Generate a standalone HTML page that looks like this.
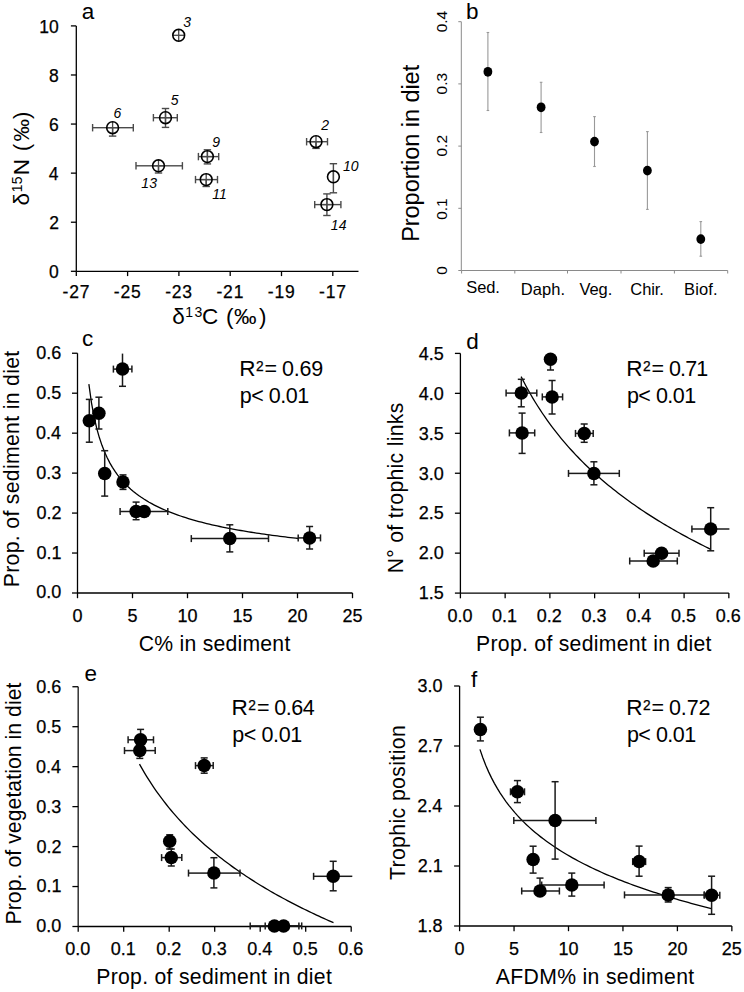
<!DOCTYPE html>
<html><head><meta charset="utf-8"><style>
html,body{margin:0;padding:0;background:#fff;}
svg{display:block;}
text{font-family:"Liberation Sans", sans-serif;fill:#000;}
.tk{stroke:#000;stroke-width:0.25px;}
</style></head><body>
<svg width="744" height="992" viewBox="0 0 744 992">
<rect width="744" height="992" fill="#fff"/>
<line x1="76.30" y1="25.90" x2="76.30" y2="271.30" stroke="#000" stroke-width="1.3"/>
<line x1="76.30" y1="271.30" x2="358.50" y2="271.30" stroke="#000" stroke-width="1.3"/>
<line x1="70.90" y1="271.30" x2="76.30" y2="271.30" stroke="#000" stroke-width="1.3"/>
<text class="tk" x="48.94" y="278.16" font-size="17.5">0</text>
<line x1="70.90" y1="222.22" x2="76.30" y2="222.22" stroke="#000" stroke-width="1.3"/>
<text class="tk" x="49.16" y="229.08" font-size="17.5">2</text>
<line x1="70.90" y1="173.14" x2="76.30" y2="173.14" stroke="#000" stroke-width="1.3"/>
<text class="tk" x="48.77" y="180.00" font-size="17.5">4</text>
<line x1="70.90" y1="124.06" x2="76.30" y2="124.06" stroke="#000" stroke-width="1.3"/>
<text class="tk" x="49.03" y="130.92" font-size="17.5">6</text>
<line x1="70.90" y1="74.98" x2="76.30" y2="74.98" stroke="#000" stroke-width="1.3"/>
<text class="tk" x="49.03" y="81.84" font-size="17.5">8</text>
<line x1="70.90" y1="25.90" x2="76.30" y2="25.90" stroke="#000" stroke-width="1.3"/>
<text class="tk" x="39.23" y="32.76" font-size="17.5">10</text>
<line x1="76.30" y1="271.30" x2="76.30" y2="276.10" stroke="#000" stroke-width="1.3"/>
<text class="tk" x="62.60" y="297.80" font-size="17.5" letter-spacing="0.8">-27</text>
<line x1="127.60" y1="271.30" x2="127.60" y2="276.10" stroke="#000" stroke-width="1.3"/>
<text class="tk" x="113.81" y="297.80" font-size="17.5" letter-spacing="0.8">-25</text>
<line x1="178.90" y1="271.30" x2="178.90" y2="276.10" stroke="#000" stroke-width="1.3"/>
<text class="tk" x="165.13" y="297.80" font-size="17.5" letter-spacing="0.8">-23</text>
<line x1="230.20" y1="271.30" x2="230.20" y2="276.10" stroke="#000" stroke-width="1.3"/>
<text class="tk" x="216.48" y="297.80" font-size="17.5" letter-spacing="0.8">-21</text>
<line x1="281.50" y1="271.30" x2="281.50" y2="276.10" stroke="#000" stroke-width="1.3"/>
<text class="tk" x="267.76" y="297.80" font-size="17.5" letter-spacing="0.8">-19</text>
<line x1="332.80" y1="271.30" x2="332.80" y2="276.10" stroke="#000" stroke-width="1.3"/>
<text class="tk" x="319.10" y="297.80" font-size="17.5" letter-spacing="0.8">-17</text>
<text x="81.74" y="19.00" font-size="22.5">a</text>
<text x="172.24" y="323.70" font-size="22.5">δ</text>
<text x="185.25" y="316.50" font-size="14.0" letter-spacing="1.405">13</text>
<text x="202.08" y="323.70" font-size="22.5">C</text>
<text x="226.09" y="323.70" font-size="22.5">(</text>
<text x="233.98" y="323.70" font-size="22.5">‰</text>
<text x="259.03" y="323.70" font-size="22.5">)</text>
<text transform="translate(29.30,205.56) rotate(-90)" font-size="22.5">δ</text>
<text transform="translate(22.10,192.35) rotate(-90)" font-size="14.0" letter-spacing="0.370">15</text>
<text transform="translate(29.30,175.36) rotate(-90)" font-size="22.5">N</text>
<text transform="translate(29.30,151.31) rotate(-90)" font-size="22.5">(</text>
<text transform="translate(29.30,141.42) rotate(-90)" font-size="22.5">‰</text>
<text transform="translate(29.30,119.07) rotate(-90)" font-size="22.5">)</text>
<line x1="172.90" y1="35.30" x2="184.50" y2="35.30" stroke="#4a4a4a" stroke-width="1.3"/>
<line x1="178.70" y1="29.50" x2="178.70" y2="41.10" stroke="#4a4a4a" stroke-width="1.3"/>
<circle cx="178.70" cy="35.30" r="5.9" fill="none" stroke="#000" stroke-width="1.6"/>
<text x="183.25" y="27.40" font-size="14.0" font-style="italic">3</text>
<line x1="106.80" y1="127.70" x2="118.40" y2="127.70" stroke="#4a4a4a" stroke-width="1.3"/>
<line x1="112.60" y1="121.90" x2="112.60" y2="133.50" stroke="#4a4a4a" stroke-width="1.3"/>
<line x1="92.60" y1="127.70" x2="112.60" y2="127.70" stroke="#4a4a4a" stroke-width="1.4"/>
<line x1="92.60" y1="124.00" x2="92.60" y2="131.40" stroke="#4a4a4a" stroke-width="1.4"/>
<line x1="112.60" y1="127.70" x2="133.30" y2="127.70" stroke="#4a4a4a" stroke-width="1.4"/>
<line x1="133.30" y1="124.00" x2="133.30" y2="131.40" stroke="#4a4a4a" stroke-width="1.4"/>
<line x1="112.60" y1="127.70" x2="112.60" y2="136.10" stroke="#4a4a4a" stroke-width="1.4"/>
<line x1="108.90" y1="136.10" x2="116.30" y2="136.10" stroke="#4a4a4a" stroke-width="1.4"/>
<circle cx="112.60" cy="127.70" r="5.9" fill="none" stroke="#000" stroke-width="1.6"/>
<text x="113.53" y="118.40" font-size="14.0" font-style="italic">6</text>
<line x1="159.70" y1="117.70" x2="171.30" y2="117.70" stroke="#4a4a4a" stroke-width="1.3"/>
<line x1="165.50" y1="111.90" x2="165.50" y2="123.50" stroke="#4a4a4a" stroke-width="1.3"/>
<line x1="153.40" y1="117.70" x2="165.50" y2="117.70" stroke="#4a4a4a" stroke-width="1.4"/>
<line x1="153.40" y1="114.00" x2="153.40" y2="121.40" stroke="#4a4a4a" stroke-width="1.4"/>
<line x1="165.50" y1="117.70" x2="177.30" y2="117.70" stroke="#4a4a4a" stroke-width="1.4"/>
<line x1="177.30" y1="114.00" x2="177.30" y2="121.40" stroke="#4a4a4a" stroke-width="1.4"/>
<line x1="165.50" y1="108.50" x2="165.50" y2="117.70" stroke="#4a4a4a" stroke-width="1.4"/>
<line x1="161.80" y1="108.50" x2="169.20" y2="108.50" stroke="#4a4a4a" stroke-width="1.4"/>
<line x1="165.50" y1="117.70" x2="165.50" y2="127.40" stroke="#4a4a4a" stroke-width="1.4"/>
<line x1="161.80" y1="127.40" x2="169.20" y2="127.40" stroke="#4a4a4a" stroke-width="1.4"/>
<circle cx="165.50" cy="117.70" r="5.9" fill="none" stroke="#000" stroke-width="1.6"/>
<text x="170.69" y="104.50" font-size="14.0" font-style="italic">5</text>
<line x1="152.70" y1="165.80" x2="164.30" y2="165.80" stroke="#4a4a4a" stroke-width="1.3"/>
<line x1="158.50" y1="160.00" x2="158.50" y2="171.60" stroke="#4a4a4a" stroke-width="1.3"/>
<line x1="136.00" y1="165.80" x2="158.50" y2="165.80" stroke="#4a4a4a" stroke-width="1.4"/>
<line x1="136.00" y1="162.10" x2="136.00" y2="169.50" stroke="#4a4a4a" stroke-width="1.4"/>
<line x1="158.50" y1="165.80" x2="182.40" y2="165.80" stroke="#4a4a4a" stroke-width="1.4"/>
<line x1="182.40" y1="162.10" x2="182.40" y2="169.50" stroke="#4a4a4a" stroke-width="1.4"/>
<line x1="158.50" y1="165.80" x2="158.50" y2="173.00" stroke="#4a4a4a" stroke-width="1.4"/>
<line x1="154.80" y1="173.00" x2="162.20" y2="173.00" stroke="#4a4a4a" stroke-width="1.4"/>
<circle cx="158.50" cy="165.80" r="5.9" fill="none" stroke="#000" stroke-width="1.6"/>
<text x="141.35" y="188.10" font-size="14.0" font-style="italic">13</text>
<line x1="201.60" y1="156.60" x2="213.20" y2="156.60" stroke="#4a4a4a" stroke-width="1.3"/>
<line x1="207.40" y1="150.80" x2="207.40" y2="162.40" stroke="#4a4a4a" stroke-width="1.3"/>
<line x1="198.40" y1="156.60" x2="207.40" y2="156.60" stroke="#4a4a4a" stroke-width="1.4"/>
<line x1="198.40" y1="152.90" x2="198.40" y2="160.30" stroke="#4a4a4a" stroke-width="1.4"/>
<line x1="207.40" y1="156.60" x2="218.70" y2="156.60" stroke="#4a4a4a" stroke-width="1.4"/>
<line x1="218.70" y1="152.90" x2="218.70" y2="160.30" stroke="#4a4a4a" stroke-width="1.4"/>
<line x1="207.40" y1="149.80" x2="207.40" y2="156.60" stroke="#4a4a4a" stroke-width="1.4"/>
<line x1="203.70" y1="149.80" x2="211.10" y2="149.80" stroke="#4a4a4a" stroke-width="1.4"/>
<line x1="207.40" y1="156.60" x2="207.40" y2="163.90" stroke="#4a4a4a" stroke-width="1.4"/>
<line x1="203.70" y1="163.90" x2="211.10" y2="163.90" stroke="#4a4a4a" stroke-width="1.4"/>
<circle cx="207.40" cy="156.60" r="5.9" fill="none" stroke="#000" stroke-width="1.6"/>
<text x="212.21" y="146.60" font-size="14.0" font-style="italic">9</text>
<line x1="200.40" y1="179.60" x2="212.00" y2="179.60" stroke="#4a4a4a" stroke-width="1.3"/>
<line x1="206.20" y1="173.80" x2="206.20" y2="185.40" stroke="#4a4a4a" stroke-width="1.3"/>
<line x1="195.50" y1="179.60" x2="206.20" y2="179.60" stroke="#4a4a4a" stroke-width="1.4"/>
<line x1="195.50" y1="175.90" x2="195.50" y2="183.30" stroke="#4a4a4a" stroke-width="1.4"/>
<line x1="206.20" y1="179.60" x2="217.50" y2="179.60" stroke="#4a4a4a" stroke-width="1.4"/>
<line x1="217.50" y1="175.90" x2="217.50" y2="183.30" stroke="#4a4a4a" stroke-width="1.4"/>
<line x1="206.20" y1="179.60" x2="206.20" y2="186.50" stroke="#4a4a4a" stroke-width="1.4"/>
<line x1="202.50" y1="186.50" x2="209.90" y2="186.50" stroke="#4a4a4a" stroke-width="1.4"/>
<circle cx="206.20" cy="179.60" r="5.9" fill="none" stroke="#000" stroke-width="1.6"/>
<text x="212.35" y="199.10" font-size="14.0" font-style="italic">11</text>
<line x1="310.20" y1="141.70" x2="321.80" y2="141.70" stroke="#4a4a4a" stroke-width="1.3"/>
<line x1="316.00" y1="135.90" x2="316.00" y2="147.50" stroke="#4a4a4a" stroke-width="1.3"/>
<line x1="306.60" y1="141.70" x2="316.00" y2="141.70" stroke="#4a4a4a" stroke-width="1.4"/>
<line x1="306.60" y1="138.00" x2="306.60" y2="145.40" stroke="#4a4a4a" stroke-width="1.4"/>
<line x1="316.00" y1="141.70" x2="327.50" y2="141.70" stroke="#4a4a4a" stroke-width="1.4"/>
<line x1="327.50" y1="138.00" x2="327.50" y2="145.40" stroke="#4a4a4a" stroke-width="1.4"/>
<line x1="316.00" y1="141.70" x2="316.00" y2="148.40" stroke="#4a4a4a" stroke-width="1.4"/>
<line x1="312.30" y1="148.40" x2="319.70" y2="148.40" stroke="#4a4a4a" stroke-width="1.4"/>
<circle cx="316.00" cy="141.70" r="5.9" fill="none" stroke="#000" stroke-width="1.6"/>
<text x="321.17" y="130.00" font-size="14.0" font-style="italic">2</text>
<line x1="333.40" y1="171.00" x2="333.40" y2="182.60" stroke="#4a4a4a" stroke-width="1.3"/>
<line x1="333.40" y1="163.70" x2="333.40" y2="176.80" stroke="#4a4a4a" stroke-width="1.4"/>
<line x1="329.70" y1="163.70" x2="337.10" y2="163.70" stroke="#4a4a4a" stroke-width="1.4"/>
<line x1="333.40" y1="176.80" x2="333.40" y2="192.80" stroke="#4a4a4a" stroke-width="1.4"/>
<line x1="329.70" y1="192.80" x2="337.10" y2="192.80" stroke="#4a4a4a" stroke-width="1.4"/>
<circle cx="333.40" cy="176.80" r="5.9" fill="none" stroke="#000" stroke-width="1.6"/>
<text x="343.05" y="171.30" font-size="14.0" font-style="italic">10</text>
<line x1="321.10" y1="204.60" x2="332.70" y2="204.60" stroke="#4a4a4a" stroke-width="1.3"/>
<line x1="326.90" y1="198.80" x2="326.90" y2="210.40" stroke="#4a4a4a" stroke-width="1.3"/>
<line x1="314.70" y1="204.60" x2="326.90" y2="204.60" stroke="#4a4a4a" stroke-width="1.4"/>
<line x1="314.70" y1="200.90" x2="314.70" y2="208.30" stroke="#4a4a4a" stroke-width="1.4"/>
<line x1="326.90" y1="204.60" x2="340.90" y2="204.60" stroke="#4a4a4a" stroke-width="1.4"/>
<line x1="340.90" y1="200.90" x2="340.90" y2="208.30" stroke="#4a4a4a" stroke-width="1.4"/>
<line x1="326.90" y1="193.90" x2="326.90" y2="204.60" stroke="#4a4a4a" stroke-width="1.4"/>
<line x1="323.20" y1="193.90" x2="330.60" y2="193.90" stroke="#4a4a4a" stroke-width="1.4"/>
<line x1="326.90" y1="204.60" x2="326.90" y2="215.50" stroke="#4a4a4a" stroke-width="1.4"/>
<line x1="323.20" y1="215.50" x2="330.60" y2="215.50" stroke="#4a4a4a" stroke-width="1.4"/>
<circle cx="326.90" cy="204.60" r="5.9" fill="none" stroke="#000" stroke-width="1.6"/>
<text x="330.85" y="229.60" font-size="14.0" font-style="italic">14</text>
<line x1="461.30" y1="21.70" x2="461.30" y2="270.50" stroke="#8a8a8a" stroke-width="1.0"/>
<line x1="461.30" y1="270.50" x2="727.70" y2="270.50" stroke="#8a8a8a" stroke-width="1.0"/>
<line x1="458.30" y1="270.50" x2="461.30" y2="270.50" stroke="#8a8a8a" stroke-width="1.0"/>
<text transform="translate(447.40,274.82) rotate(-90)" font-size="15.5" fill="#111">0</text>
<line x1="458.30" y1="208.30" x2="461.30" y2="208.30" stroke="#8a8a8a" stroke-width="1.0"/>
<text transform="translate(447.40,219.81) rotate(-90)" font-size="15.5" fill="#111">0.1</text>
<line x1="458.30" y1="146.10" x2="461.30" y2="146.10" stroke="#8a8a8a" stroke-width="1.0"/>
<text transform="translate(447.40,156.54) rotate(-90)" font-size="15.5" fill="#111">0.2</text>
<line x1="458.30" y1="83.90" x2="461.30" y2="83.90" stroke="#8a8a8a" stroke-width="1.0"/>
<text transform="translate(447.40,94.40) rotate(-90)" font-size="15.5" fill="#111">0.3</text>
<line x1="458.30" y1="21.70" x2="461.30" y2="21.70" stroke="#8a8a8a" stroke-width="1.0"/>
<text transform="translate(447.40,32.32) rotate(-90)" font-size="15.5" fill="#111">0.4</text>
<line x1="461.60" y1="270.50" x2="461.60" y2="273.50" stroke="#8a8a8a" stroke-width="1.0"/>
<line x1="514.80" y1="270.50" x2="514.80" y2="273.50" stroke="#8a8a8a" stroke-width="1.0"/>
<line x1="567.50" y1="270.50" x2="567.50" y2="273.50" stroke="#8a8a8a" stroke-width="1.0"/>
<line x1="621.00" y1="270.50" x2="621.00" y2="273.50" stroke="#8a8a8a" stroke-width="1.0"/>
<line x1="674.40" y1="270.50" x2="674.40" y2="273.50" stroke="#8a8a8a" stroke-width="1.0"/>
<line x1="727.70" y1="270.50" x2="727.70" y2="273.50" stroke="#8a8a8a" stroke-width="1.0"/>
<text transform="translate(418.80,241.84) rotate(-90)" font-size="23.5" letter-spacing="-0.038">Proportion in diet</text>
<text x="466.04" y="18.70" font-size="22.5">b</text>
<line x1="487.90" y1="32.50" x2="487.90" y2="110.50" stroke="#999" stroke-width="1.1"/>
<line x1="486.60" y1="32.50" x2="489.20" y2="32.50" stroke="#999" stroke-width="1.1"/>
<line x1="486.60" y1="110.50" x2="489.20" y2="110.50" stroke="#999" stroke-width="1.1"/>
<ellipse cx="487.9" cy="71.8" rx="4.4" ry="4.9" fill="#000"/>
<line x1="541.10" y1="82.30" x2="541.10" y2="132.50" stroke="#999" stroke-width="1.1"/>
<line x1="539.80" y1="82.30" x2="542.40" y2="82.30" stroke="#999" stroke-width="1.1"/>
<line x1="539.80" y1="132.50" x2="542.40" y2="132.50" stroke="#999" stroke-width="1.1"/>
<ellipse cx="541.1" cy="107.3" rx="4.4" ry="4.9" fill="#000"/>
<line x1="594.50" y1="116.60" x2="594.50" y2="166.50" stroke="#999" stroke-width="1.1"/>
<line x1="593.20" y1="116.60" x2="595.80" y2="116.60" stroke="#999" stroke-width="1.1"/>
<line x1="593.20" y1="166.50" x2="595.80" y2="166.50" stroke="#999" stroke-width="1.1"/>
<ellipse cx="594.5" cy="141.6" rx="4.4" ry="4.9" fill="#000"/>
<line x1="647.40" y1="131.60" x2="647.40" y2="209.40" stroke="#999" stroke-width="1.1"/>
<line x1="646.10" y1="131.60" x2="648.70" y2="131.60" stroke="#999" stroke-width="1.1"/>
<line x1="646.10" y1="209.40" x2="648.70" y2="209.40" stroke="#999" stroke-width="1.1"/>
<ellipse cx="647.4" cy="170.6" rx="4.4" ry="4.9" fill="#000"/>
<line x1="700.80" y1="221.60" x2="700.80" y2="256.20" stroke="#999" stroke-width="1.1"/>
<line x1="699.50" y1="221.60" x2="702.10" y2="221.60" stroke="#999" stroke-width="1.1"/>
<line x1="699.50" y1="256.20" x2="702.10" y2="256.20" stroke="#999" stroke-width="1.1"/>
<ellipse cx="700.8" cy="239.1" rx="4.4" ry="4.9" fill="#000"/>
<text x="466.36" y="293.00" font-size="16.5" letter-spacing="-0.174">Sed.</text>
<text x="520.84" y="294.90" font-size="16.5" letter-spacing="0.083">Daph.</text>
<text x="579.52" y="294.90" font-size="16.5" letter-spacing="-0.091">Veg.</text>
<text x="630.37" y="294.90" font-size="16.5" letter-spacing="-0.124">Chir.</text>
<text x="684.04" y="294.90" font-size="16.5" letter-spacing="0.112">Biof.</text>
<line x1="77.50" y1="353.24" x2="77.50" y2="593.00" stroke="#000" stroke-width="1.3"/>
<line x1="77.50" y1="593.00" x2="352.50" y2="593.00" stroke="#000" stroke-width="1.3"/>
<line x1="72.00" y1="593.00" x2="77.50" y2="593.00" stroke="#000" stroke-width="1.3"/>
<text class="tk" x="36.26" y="598.49" font-size="18.0">0.0</text>
<line x1="72.00" y1="553.04" x2="77.50" y2="553.04" stroke="#000" stroke-width="1.3"/>
<text class="tk" x="36.44" y="558.53" font-size="18.0">0.1</text>
<line x1="72.00" y1="513.08" x2="77.50" y2="513.08" stroke="#000" stroke-width="1.3"/>
<text class="tk" x="36.48" y="518.57" font-size="18.0">0.2</text>
<line x1="72.00" y1="473.12" x2="77.50" y2="473.12" stroke="#000" stroke-width="1.3"/>
<text class="tk" x="36.34" y="478.61" font-size="18.0">0.3</text>
<line x1="72.00" y1="433.16" x2="77.50" y2="433.16" stroke="#000" stroke-width="1.3"/>
<text class="tk" x="36.08" y="438.65" font-size="18.0">0.4</text>
<line x1="72.00" y1="393.20" x2="77.50" y2="393.20" stroke="#000" stroke-width="1.3"/>
<text class="tk" x="36.30" y="398.69" font-size="18.0">0.5</text>
<line x1="72.00" y1="353.24" x2="77.50" y2="353.24" stroke="#000" stroke-width="1.3"/>
<text class="tk" x="36.34" y="358.73" font-size="18.0">0.6</text>
<line x1="77.50" y1="593.00" x2="77.50" y2="598.20" stroke="#000" stroke-width="1.3"/>
<text x="77.50" y="621.6" font-size="18.0" text-anchor="middle" class="tk">0</text>
<line x1="132.50" y1="593.00" x2="132.50" y2="598.20" stroke="#000" stroke-width="1.3"/>
<text x="132.50" y="621.6" font-size="18.0" text-anchor="middle" class="tk">5</text>
<line x1="187.50" y1="593.00" x2="187.50" y2="598.20" stroke="#000" stroke-width="1.3"/>
<text x="187.50" y="621.6" font-size="18.0" text-anchor="middle" class="tk">10</text>
<line x1="242.50" y1="593.00" x2="242.50" y2="598.20" stroke="#000" stroke-width="1.3"/>
<text x="242.50" y="621.6" font-size="18.0" text-anchor="middle" class="tk">15</text>
<line x1="297.50" y1="593.00" x2="297.50" y2="598.20" stroke="#000" stroke-width="1.3"/>
<text x="297.50" y="621.6" font-size="18.0" text-anchor="middle" class="tk">20</text>
<line x1="352.50" y1="593.00" x2="352.50" y2="598.20" stroke="#000" stroke-width="1.3"/>
<text x="352.50" y="621.6" font-size="18.0" text-anchor="middle" class="tk">25</text>
<text x="82.10" y="345.80" font-size="22.5">c</text>
<text transform="translate(19.40,587.25) rotate(-90)" font-size="21.2" letter-spacing="0.332">Prop. of sediment in diet</text>
<text x="138.84" y="650.60" font-size="21.2" letter-spacing="0.236">C% in sediment</text>
<polyline points="88.87,384.08 91.49,402.80 94.11,417.02 96.73,428.31 99.35,437.57 101.97,445.34 104.59,451.98 107.21,457.76 109.82,462.84 112.44,467.35 115.06,471.40 117.68,475.05 120.30,478.38 122.92,481.42 125.54,484.22 128.16,486.80 130.78,489.20 133.39,491.43 136.01,493.52 138.63,495.47 141.25,497.31 143.87,499.04 146.49,500.67 149.11,502.22 151.73,503.68 154.34,505.07 156.96,506.40 159.58,507.66 162.20,508.87 164.82,510.02 167.44,511.12 170.06,512.18 172.68,513.19 175.30,514.17 177.91,515.11 180.53,516.01 183.15,516.88 185.77,517.72 188.39,518.53 191.01,519.31 193.63,520.07 196.25,520.81 198.86,521.52 201.48,522.20 204.10,522.87 206.72,523.52 209.34,524.15 211.96,524.76 214.58,525.35 217.20,525.93 219.82,526.49 222.43,527.04 225.05,527.57 227.67,528.09 230.29,528.60 232.91,529.09 235.53,529.57 238.15,530.04 240.77,530.50 243.38,530.95 246.00,531.39 248.62,531.82 251.24,532.24 253.86,532.65 256.48,533.05 259.10,533.44 261.72,533.83 264.34,534.21 266.95,534.58 269.57,534.94 272.19,535.29 274.81,535.64 277.43,535.98 280.05,536.32 282.67,536.65 285.29,536.97 287.90,537.29 290.52,537.60 293.14,537.90 295.76,538.20 298.38,538.50" fill="none" stroke="#000" stroke-width="1.3"/>
<line x1="113.40" y1="369.10" x2="122.50" y2="369.10" stroke="#1a1a1a" stroke-width="1.5"/>
<line x1="113.40" y1="365.60" x2="113.40" y2="372.60" stroke="#1a1a1a" stroke-width="1.5"/>
<line x1="122.50" y1="369.10" x2="131.90" y2="369.10" stroke="#1a1a1a" stroke-width="1.5"/>
<line x1="131.90" y1="365.60" x2="131.90" y2="372.60" stroke="#1a1a1a" stroke-width="1.5"/>
<line x1="122.50" y1="353.60" x2="122.50" y2="369.10" stroke="#1a1a1a" stroke-width="1.5"/>
<line x1="122.50" y1="369.10" x2="122.50" y2="386.30" stroke="#1a1a1a" stroke-width="1.5"/>
<line x1="119.00" y1="386.30" x2="126.00" y2="386.30" stroke="#1a1a1a" stroke-width="1.5"/>
<line x1="89.30" y1="399.40" x2="89.30" y2="420.80" stroke="#1a1a1a" stroke-width="1.5"/>
<line x1="85.80" y1="399.40" x2="92.80" y2="399.40" stroke="#1a1a1a" stroke-width="1.5"/>
<line x1="89.30" y1="420.80" x2="89.30" y2="442.20" stroke="#1a1a1a" stroke-width="1.5"/>
<line x1="85.80" y1="442.20" x2="92.80" y2="442.20" stroke="#1a1a1a" stroke-width="1.5"/>
<line x1="98.90" y1="397.20" x2="98.90" y2="413.20" stroke="#1a1a1a" stroke-width="1.5"/>
<line x1="95.40" y1="397.20" x2="102.40" y2="397.20" stroke="#1a1a1a" stroke-width="1.5"/>
<line x1="98.90" y1="413.20" x2="98.90" y2="429.00" stroke="#1a1a1a" stroke-width="1.5"/>
<line x1="95.40" y1="429.00" x2="102.40" y2="429.00" stroke="#1a1a1a" stroke-width="1.5"/>
<line x1="104.70" y1="450.70" x2="104.70" y2="473.40" stroke="#1a1a1a" stroke-width="1.5"/>
<line x1="101.20" y1="450.70" x2="108.20" y2="450.70" stroke="#1a1a1a" stroke-width="1.5"/>
<line x1="104.70" y1="473.40" x2="104.70" y2="496.10" stroke="#1a1a1a" stroke-width="1.5"/>
<line x1="101.20" y1="496.10" x2="108.20" y2="496.10" stroke="#1a1a1a" stroke-width="1.5"/>
<line x1="123.00" y1="474.90" x2="123.00" y2="482.10" stroke="#1a1a1a" stroke-width="1.5"/>
<line x1="119.50" y1="474.90" x2="126.50" y2="474.90" stroke="#1a1a1a" stroke-width="1.5"/>
<line x1="123.00" y1="482.10" x2="123.00" y2="489.40" stroke="#1a1a1a" stroke-width="1.5"/>
<line x1="119.50" y1="489.40" x2="126.50" y2="489.40" stroke="#1a1a1a" stroke-width="1.5"/>
<line x1="120.10" y1="511.50" x2="136.10" y2="511.50" stroke="#1a1a1a" stroke-width="1.5"/>
<line x1="120.10" y1="508.00" x2="120.10" y2="515.00" stroke="#1a1a1a" stroke-width="1.5"/>
<line x1="136.10" y1="502.10" x2="136.10" y2="511.50" stroke="#1a1a1a" stroke-width="1.5"/>
<line x1="132.60" y1="502.10" x2="139.60" y2="502.10" stroke="#1a1a1a" stroke-width="1.5"/>
<line x1="136.10" y1="511.50" x2="136.10" y2="519.70" stroke="#1a1a1a" stroke-width="1.5"/>
<line x1="132.60" y1="519.70" x2="139.60" y2="519.70" stroke="#1a1a1a" stroke-width="1.5"/>
<line x1="144.20" y1="511.50" x2="167.80" y2="511.50" stroke="#1a1a1a" stroke-width="1.5"/>
<line x1="167.80" y1="508.00" x2="167.80" y2="515.00" stroke="#1a1a1a" stroke-width="1.5"/>
<line x1="191.30" y1="538.60" x2="229.80" y2="538.60" stroke="#1a1a1a" stroke-width="1.5"/>
<line x1="191.30" y1="535.10" x2="191.30" y2="542.10" stroke="#1a1a1a" stroke-width="1.5"/>
<line x1="229.80" y1="538.60" x2="268.50" y2="538.60" stroke="#1a1a1a" stroke-width="1.5"/>
<line x1="268.50" y1="535.10" x2="268.50" y2="542.10" stroke="#1a1a1a" stroke-width="1.5"/>
<line x1="229.80" y1="524.80" x2="229.80" y2="538.60" stroke="#1a1a1a" stroke-width="1.5"/>
<line x1="226.30" y1="524.80" x2="233.30" y2="524.80" stroke="#1a1a1a" stroke-width="1.5"/>
<line x1="229.80" y1="538.60" x2="229.80" y2="551.90" stroke="#1a1a1a" stroke-width="1.5"/>
<line x1="226.30" y1="551.90" x2="233.30" y2="551.90" stroke="#1a1a1a" stroke-width="1.5"/>
<line x1="298.20" y1="537.90" x2="309.60" y2="537.90" stroke="#1a1a1a" stroke-width="1.5"/>
<line x1="298.20" y1="534.40" x2="298.20" y2="541.40" stroke="#1a1a1a" stroke-width="1.5"/>
<line x1="309.60" y1="537.90" x2="320.50" y2="537.90" stroke="#1a1a1a" stroke-width="1.5"/>
<line x1="320.50" y1="534.40" x2="320.50" y2="541.40" stroke="#1a1a1a" stroke-width="1.5"/>
<line x1="309.60" y1="526.50" x2="309.60" y2="537.90" stroke="#1a1a1a" stroke-width="1.5"/>
<line x1="306.10" y1="526.50" x2="313.10" y2="526.50" stroke="#1a1a1a" stroke-width="1.5"/>
<line x1="309.60" y1="537.90" x2="309.60" y2="549.00" stroke="#1a1a1a" stroke-width="1.5"/>
<line x1="306.10" y1="549.00" x2="313.10" y2="549.00" stroke="#1a1a1a" stroke-width="1.5"/>
<circle cx="122.50" cy="369.10" r="6.75" fill="#000"/>
<circle cx="89.30" cy="420.80" r="6.75" fill="#000"/>
<circle cx="98.90" cy="413.20" r="6.75" fill="#000"/>
<circle cx="104.70" cy="473.40" r="6.75" fill="#000"/>
<circle cx="123.00" cy="482.10" r="6.75" fill="#000"/>
<circle cx="136.10" cy="511.50" r="6.75" fill="#000"/>
<circle cx="144.20" cy="511.50" r="6.75" fill="#000"/>
<circle cx="229.80" cy="538.60" r="6.75" fill="#000"/>
<circle cx="309.60" cy="537.90" r="6.75" fill="#000"/>
<text x="239.29" y="376.20" font-size="21.5" textLength="16.30" lengthAdjust="spacingAndGlyphs">R</text>
<text class="tk" x="255.91" y="371.20" font-size="13.8">2</text>
<text x="264.52" y="376.20" font-size="21.5">=</text>
<text x="281.94" y="376.20" font-size="21.5" letter-spacing="-0.163">0.69</text>
<text x="239.85" y="403.10" font-size="21.5" letter-spacing="-0.487">p&lt; 0.01</text>
<line x1="460.40" y1="353.40" x2="460.40" y2="593.10" stroke="#000" stroke-width="1.3"/>
<line x1="460.40" y1="593.10" x2="728.84" y2="593.10" stroke="#000" stroke-width="1.3"/>
<line x1="454.90" y1="593.10" x2="460.40" y2="593.10" stroke="#000" stroke-width="1.3"/>
<text class="tk" x="418.80" y="599.39" font-size="18.0">1.5</text>
<line x1="454.90" y1="553.15" x2="460.40" y2="553.15" stroke="#000" stroke-width="1.3"/>
<text class="tk" x="418.75" y="559.44" font-size="18.0">2.0</text>
<line x1="454.90" y1="513.20" x2="460.40" y2="513.20" stroke="#000" stroke-width="1.3"/>
<text class="tk" x="418.80" y="519.49" font-size="18.0">2.5</text>
<line x1="454.90" y1="473.25" x2="460.40" y2="473.25" stroke="#000" stroke-width="1.3"/>
<text class="tk" x="418.75" y="479.54" font-size="18.0">3.0</text>
<line x1="454.90" y1="433.30" x2="460.40" y2="433.30" stroke="#000" stroke-width="1.3"/>
<text class="tk" x="418.80" y="439.59" font-size="18.0">3.5</text>
<line x1="454.90" y1="393.35" x2="460.40" y2="393.35" stroke="#000" stroke-width="1.3"/>
<text class="tk" x="418.75" y="399.64" font-size="18.0">4.0</text>
<line x1="454.90" y1="353.40" x2="460.40" y2="353.40" stroke="#000" stroke-width="1.3"/>
<text class="tk" x="418.80" y="359.69" font-size="18.0">4.5</text>
<line x1="460.40" y1="593.10" x2="460.40" y2="598.30" stroke="#000" stroke-width="1.3"/>
<text x="459.90" y="621.85" font-size="18.0" text-anchor="middle" class="tk">0.0</text>
<line x1="505.14" y1="593.10" x2="505.14" y2="598.30" stroke="#000" stroke-width="1.3"/>
<text x="504.64" y="621.85" font-size="18.0" text-anchor="middle" class="tk">0.1</text>
<line x1="549.88" y1="593.10" x2="549.88" y2="598.30" stroke="#000" stroke-width="1.3"/>
<text x="549.38" y="621.85" font-size="18.0" text-anchor="middle" class="tk">0.2</text>
<line x1="594.62" y1="593.10" x2="594.62" y2="598.30" stroke="#000" stroke-width="1.3"/>
<text x="594.12" y="621.85" font-size="18.0" text-anchor="middle" class="tk">0.3</text>
<line x1="639.36" y1="593.10" x2="639.36" y2="598.30" stroke="#000" stroke-width="1.3"/>
<text x="638.86" y="621.85" font-size="18.0" text-anchor="middle" class="tk">0.4</text>
<line x1="684.10" y1="593.10" x2="684.10" y2="598.30" stroke="#000" stroke-width="1.3"/>
<text x="683.60" y="621.85" font-size="18.0" text-anchor="middle" class="tk">0.5</text>
<line x1="728.84" y1="593.10" x2="728.84" y2="598.30" stroke="#000" stroke-width="1.3"/>
<text x="728.34" y="621.85" font-size="18.0" text-anchor="middle" class="tk">0.6</text>
<text x="466.24" y="348.90" font-size="22.5">d</text>
<text transform="translate(402.50,573.35) rotate(-90)" font-size="21.2" letter-spacing="0.311">N° of trophic links</text>
<text x="476.05" y="651.20" font-size="21.2" letter-spacing="0.290">Prop. of sediment in diet</text>
<polyline points="521.11,376.63 523.48,381.28 525.84,385.77 528.20,390.09 530.57,394.27 532.93,398.31 535.29,402.22 537.66,406.00 540.02,409.68 542.38,413.24 544.75,416.71 547.11,420.08 549.47,423.35 551.84,426.55 554.20,429.66 556.56,432.69 558.93,435.65 561.29,438.54 563.65,441.36 566.02,444.12 568.38,446.82 570.74,449.46 573.11,452.04 575.47,454.57 577.83,457.05 580.20,459.48 582.56,461.86 584.92,464.20 587.29,466.49 589.65,468.74 592.01,470.95 594.38,473.12 596.74,475.25 599.10,477.34 601.47,479.40 603.83,481.43 606.19,483.42 608.56,485.38 610.92,487.31 613.28,489.21 615.65,491.08 618.01,492.92 620.37,494.74 622.74,496.52 625.10,498.29 627.46,500.02 629.83,501.74 632.19,503.42 634.55,505.09 636.92,506.73 639.28,508.35 641.65,509.95 644.01,511.53 646.37,513.09 648.74,514.63 651.10,516.15 653.46,517.65 655.83,519.14 658.19,520.60 660.55,522.05 662.92,523.48 665.28,524.90 667.64,526.29 670.01,527.68 672.37,529.04 674.73,530.39 677.10,531.73 679.46,533.05 681.82,534.36 684.19,535.66 686.55,536.94 688.91,538.20 691.28,539.46 693.64,540.70 696.00,541.93 698.37,543.15 700.73,544.35 703.09,545.54 705.46,546.72 707.82,547.89 710.18,549.05" fill="none" stroke="#000" stroke-width="1.3"/>
<line x1="550.50" y1="359.20" x2="550.50" y2="370.00" stroke="#1a1a1a" stroke-width="1.5"/>
<line x1="547.00" y1="370.00" x2="554.00" y2="370.00" stroke="#1a1a1a" stroke-width="1.5"/>
<line x1="506.10" y1="393.10" x2="521.30" y2="393.10" stroke="#1a1a1a" stroke-width="1.5"/>
<line x1="506.10" y1="389.60" x2="506.10" y2="396.60" stroke="#1a1a1a" stroke-width="1.5"/>
<line x1="521.30" y1="393.10" x2="536.80" y2="393.10" stroke="#1a1a1a" stroke-width="1.5"/>
<line x1="536.80" y1="389.60" x2="536.80" y2="396.60" stroke="#1a1a1a" stroke-width="1.5"/>
<line x1="521.30" y1="379.30" x2="521.30" y2="393.10" stroke="#1a1a1a" stroke-width="1.5"/>
<line x1="517.80" y1="379.30" x2="524.80" y2="379.30" stroke="#1a1a1a" stroke-width="1.5"/>
<line x1="521.30" y1="393.10" x2="521.30" y2="406.80" stroke="#1a1a1a" stroke-width="1.5"/>
<line x1="517.80" y1="406.80" x2="524.80" y2="406.80" stroke="#1a1a1a" stroke-width="1.5"/>
<line x1="542.30" y1="396.90" x2="552.10" y2="396.90" stroke="#1a1a1a" stroke-width="1.5"/>
<line x1="542.30" y1="393.40" x2="542.30" y2="400.40" stroke="#1a1a1a" stroke-width="1.5"/>
<line x1="552.10" y1="396.90" x2="562.60" y2="396.90" stroke="#1a1a1a" stroke-width="1.5"/>
<line x1="562.60" y1="393.40" x2="562.60" y2="400.40" stroke="#1a1a1a" stroke-width="1.5"/>
<line x1="552.10" y1="380.50" x2="552.10" y2="396.90" stroke="#1a1a1a" stroke-width="1.5"/>
<line x1="548.60" y1="380.50" x2="555.60" y2="380.50" stroke="#1a1a1a" stroke-width="1.5"/>
<line x1="552.10" y1="396.90" x2="552.10" y2="414.00" stroke="#1a1a1a" stroke-width="1.5"/>
<line x1="548.60" y1="414.00" x2="555.60" y2="414.00" stroke="#1a1a1a" stroke-width="1.5"/>
<line x1="509.40" y1="432.90" x2="522.10" y2="432.90" stroke="#1a1a1a" stroke-width="1.5"/>
<line x1="509.40" y1="429.40" x2="509.40" y2="436.40" stroke="#1a1a1a" stroke-width="1.5"/>
<line x1="522.10" y1="432.90" x2="534.70" y2="432.90" stroke="#1a1a1a" stroke-width="1.5"/>
<line x1="534.70" y1="429.40" x2="534.70" y2="436.40" stroke="#1a1a1a" stroke-width="1.5"/>
<line x1="522.10" y1="413.10" x2="522.10" y2="432.90" stroke="#1a1a1a" stroke-width="1.5"/>
<line x1="518.60" y1="413.10" x2="525.60" y2="413.10" stroke="#1a1a1a" stroke-width="1.5"/>
<line x1="522.10" y1="432.90" x2="522.10" y2="453.40" stroke="#1a1a1a" stroke-width="1.5"/>
<line x1="518.60" y1="453.40" x2="525.60" y2="453.40" stroke="#1a1a1a" stroke-width="1.5"/>
<line x1="575.50" y1="433.40" x2="584.20" y2="433.40" stroke="#1a1a1a" stroke-width="1.5"/>
<line x1="575.50" y1="429.90" x2="575.50" y2="436.90" stroke="#1a1a1a" stroke-width="1.5"/>
<line x1="584.20" y1="433.40" x2="593.20" y2="433.40" stroke="#1a1a1a" stroke-width="1.5"/>
<line x1="593.20" y1="429.90" x2="593.20" y2="436.90" stroke="#1a1a1a" stroke-width="1.5"/>
<line x1="584.20" y1="424.00" x2="584.20" y2="433.40" stroke="#1a1a1a" stroke-width="1.5"/>
<line x1="580.70" y1="424.00" x2="587.70" y2="424.00" stroke="#1a1a1a" stroke-width="1.5"/>
<line x1="584.20" y1="433.40" x2="584.20" y2="442.30" stroke="#1a1a1a" stroke-width="1.5"/>
<line x1="580.70" y1="442.30" x2="587.70" y2="442.30" stroke="#1a1a1a" stroke-width="1.5"/>
<line x1="568.50" y1="473.40" x2="593.90" y2="473.40" stroke="#1a1a1a" stroke-width="1.5"/>
<line x1="568.50" y1="469.90" x2="568.50" y2="476.90" stroke="#1a1a1a" stroke-width="1.5"/>
<line x1="593.90" y1="473.40" x2="619.30" y2="473.40" stroke="#1a1a1a" stroke-width="1.5"/>
<line x1="619.30" y1="469.90" x2="619.30" y2="476.90" stroke="#1a1a1a" stroke-width="1.5"/>
<line x1="593.90" y1="461.80" x2="593.90" y2="473.40" stroke="#1a1a1a" stroke-width="1.5"/>
<line x1="590.40" y1="461.80" x2="597.40" y2="461.80" stroke="#1a1a1a" stroke-width="1.5"/>
<line x1="593.90" y1="473.40" x2="593.90" y2="484.80" stroke="#1a1a1a" stroke-width="1.5"/>
<line x1="590.40" y1="484.80" x2="597.40" y2="484.80" stroke="#1a1a1a" stroke-width="1.5"/>
<line x1="691.90" y1="529.00" x2="710.70" y2="529.00" stroke="#1a1a1a" stroke-width="1.5"/>
<line x1="691.90" y1="525.50" x2="691.90" y2="532.50" stroke="#1a1a1a" stroke-width="1.5"/>
<line x1="710.70" y1="507.70" x2="710.70" y2="529.00" stroke="#1a1a1a" stroke-width="1.5"/>
<line x1="707.20" y1="507.70" x2="714.20" y2="507.70" stroke="#1a1a1a" stroke-width="1.5"/>
<line x1="710.70" y1="529.00" x2="710.70" y2="550.80" stroke="#1a1a1a" stroke-width="1.5"/>
<line x1="707.20" y1="550.80" x2="714.20" y2="550.80" stroke="#1a1a1a" stroke-width="1.5"/>
<line x1="644.20" y1="553.20" x2="661.60" y2="553.20" stroke="#1a1a1a" stroke-width="1.5"/>
<line x1="644.20" y1="549.70" x2="644.20" y2="556.70" stroke="#1a1a1a" stroke-width="1.5"/>
<line x1="661.60" y1="553.20" x2="679.00" y2="553.20" stroke="#1a1a1a" stroke-width="1.5"/>
<line x1="679.00" y1="549.70" x2="679.00" y2="556.70" stroke="#1a1a1a" stroke-width="1.5"/>
<line x1="629.70" y1="561.00" x2="653.20" y2="561.00" stroke="#1a1a1a" stroke-width="1.5"/>
<line x1="629.70" y1="557.50" x2="629.70" y2="564.50" stroke="#1a1a1a" stroke-width="1.5"/>
<line x1="653.20" y1="561.00" x2="677.30" y2="561.00" stroke="#1a1a1a" stroke-width="1.5"/>
<line x1="677.30" y1="557.50" x2="677.30" y2="564.50" stroke="#1a1a1a" stroke-width="1.5"/>
<line x1="710.70" y1="529.00" x2="729.40" y2="529.00" stroke="#1a1a1a" stroke-width="1.5"/>
<circle cx="550.50" cy="359.20" r="6.75" fill="#000"/>
<circle cx="521.30" cy="393.10" r="6.75" fill="#000"/>
<circle cx="552.10" cy="396.90" r="6.75" fill="#000"/>
<circle cx="522.10" cy="432.90" r="6.75" fill="#000"/>
<circle cx="584.20" cy="433.40" r="6.75" fill="#000"/>
<circle cx="593.90" cy="473.40" r="6.75" fill="#000"/>
<circle cx="710.70" cy="529.00" r="6.75" fill="#000"/>
<circle cx="661.60" cy="553.20" r="6.75" fill="#000"/>
<circle cx="653.20" cy="561.00" r="6.75" fill="#000"/>
<text x="626.34" y="376.20" font-size="21.5" textLength="16.30" lengthAdjust="spacingAndGlyphs">R</text>
<text class="tk" x="642.96" y="371.20" font-size="13.8">2</text>
<text x="651.57" y="376.20" font-size="21.5">=</text>
<text x="668.99" y="376.20" font-size="21.5" letter-spacing="-0.895">0.71</text>
<text x="626.90" y="403.10" font-size="21.5" letter-spacing="-0.496">p&lt; 0.01</text>
<line x1="78.20" y1="686.74" x2="78.20" y2="926.50" stroke="#333" stroke-width="1.5"/>
<line x1="78.20" y1="926.50" x2="351.20" y2="926.50" stroke="#000" stroke-width="1.3"/>
<line x1="72.40" y1="926.50" x2="78.20" y2="926.50" stroke="#000" stroke-width="1.3"/>
<text class="tk" x="36.26" y="932.44" font-size="18.0">0.0</text>
<line x1="72.40" y1="886.54" x2="78.20" y2="886.54" stroke="#000" stroke-width="1.3"/>
<text class="tk" x="36.44" y="892.48" font-size="18.0">0.1</text>
<line x1="72.40" y1="846.58" x2="78.20" y2="846.58" stroke="#000" stroke-width="1.3"/>
<text class="tk" x="36.48" y="852.52" font-size="18.0">0.2</text>
<line x1="72.40" y1="806.62" x2="78.20" y2="806.62" stroke="#000" stroke-width="1.3"/>
<text class="tk" x="36.34" y="812.56" font-size="18.0">0.3</text>
<line x1="72.40" y1="766.66" x2="78.20" y2="766.66" stroke="#000" stroke-width="1.3"/>
<text class="tk" x="36.08" y="772.60" font-size="18.0">0.4</text>
<line x1="72.40" y1="726.70" x2="78.20" y2="726.70" stroke="#000" stroke-width="1.3"/>
<text class="tk" x="36.30" y="732.64" font-size="18.0">0.5</text>
<line x1="72.40" y1="686.74" x2="78.20" y2="686.74" stroke="#000" stroke-width="1.3"/>
<text class="tk" x="36.34" y="692.68" font-size="18.0">0.6</text>
<line x1="78.20" y1="926.50" x2="78.20" y2="931.70" stroke="#000" stroke-width="1.3"/>
<text x="77.70" y="955.45" font-size="18.0" text-anchor="middle" class="tk">0.0</text>
<line x1="123.70" y1="926.50" x2="123.70" y2="931.70" stroke="#000" stroke-width="1.3"/>
<text x="123.20" y="955.45" font-size="18.0" text-anchor="middle" class="tk">0.1</text>
<line x1="169.20" y1="926.50" x2="169.20" y2="931.70" stroke="#000" stroke-width="1.3"/>
<text x="168.70" y="955.45" font-size="18.0" text-anchor="middle" class="tk">0.2</text>
<line x1="214.70" y1="926.50" x2="214.70" y2="931.70" stroke="#000" stroke-width="1.3"/>
<text x="214.20" y="955.45" font-size="18.0" text-anchor="middle" class="tk">0.3</text>
<line x1="260.20" y1="926.50" x2="260.20" y2="931.70" stroke="#000" stroke-width="1.3"/>
<text x="259.70" y="955.45" font-size="18.0" text-anchor="middle" class="tk">0.4</text>
<line x1="305.70" y1="926.50" x2="305.70" y2="931.70" stroke="#000" stroke-width="1.3"/>
<text x="305.20" y="955.45" font-size="18.0" text-anchor="middle" class="tk">0.5</text>
<line x1="351.20" y1="926.50" x2="351.20" y2="931.70" stroke="#000" stroke-width="1.3"/>
<text x="350.70" y="955.45" font-size="18.0" text-anchor="middle" class="tk">0.6</text>
<text x="84.50" y="680.80" font-size="22.5">e</text>
<text transform="translate(21.00,924.45) rotate(-90)" font-size="21.2" letter-spacing="0.062">Prop. of vegetation in diet</text>
<text x="96.25" y="984.40" font-size="21.2" letter-spacing="0.294">Prop. of sediment in diet</text>
<polyline points="139.49,764.10 141.91,768.41 144.34,772.57 146.76,776.57 149.19,780.43 151.61,784.17 154.04,787.78 156.46,791.28 158.89,794.67 161.31,797.96 163.74,801.16 166.17,804.27 168.59,807.29 171.02,810.24 173.44,813.10 175.87,815.90 178.29,818.63 180.72,821.29 183.14,823.89 185.57,826.43 187.99,828.91 190.42,831.34 192.84,833.72 195.27,836.04 197.69,838.32 200.12,840.56 202.54,842.74 204.97,844.89 207.39,847.00 209.82,849.07 212.24,851.10 214.67,853.09 217.09,855.05 219.52,856.97 221.94,858.86 224.37,860.72 226.79,862.55 229.22,864.35 231.64,866.12 234.07,867.87 236.49,869.58 238.92,871.27 241.34,872.94 243.77,874.58 246.20,876.20 248.62,877.79 251.05,879.36 253.47,880.91 255.90,882.44 258.32,883.94 260.75,885.43 263.17,886.90 265.60,888.34 268.02,889.77 270.45,891.19 272.87,892.58 275.30,893.96 277.72,895.32 280.15,896.66 282.57,897.99 285.00,899.30 287.42,900.59 289.85,901.87 292.27,903.14 294.70,904.39 297.12,905.63 299.55,906.86 301.97,908.07 304.40,909.27 306.82,910.45 309.25,911.62 311.67,912.78 314.10,913.93 316.52,915.07 318.95,916.20 321.37,917.31 323.80,918.41 326.23,919.51 328.65,920.59 331.08,921.66 333.50,922.72" fill="none" stroke="#000" stroke-width="1.3"/>
<line x1="128.10" y1="739.80" x2="140.60" y2="739.80" stroke="#1a1a1a" stroke-width="1.5"/>
<line x1="128.10" y1="736.30" x2="128.10" y2="743.30" stroke="#1a1a1a" stroke-width="1.5"/>
<line x1="140.60" y1="739.80" x2="153.50" y2="739.80" stroke="#1a1a1a" stroke-width="1.5"/>
<line x1="153.50" y1="736.30" x2="153.50" y2="743.30" stroke="#1a1a1a" stroke-width="1.5"/>
<line x1="140.60" y1="729.40" x2="140.60" y2="739.80" stroke="#1a1a1a" stroke-width="1.5"/>
<line x1="137.10" y1="729.40" x2="144.10" y2="729.40" stroke="#1a1a1a" stroke-width="1.5"/>
<line x1="124.50" y1="750.60" x2="139.80" y2="750.60" stroke="#1a1a1a" stroke-width="1.5"/>
<line x1="124.50" y1="747.10" x2="124.50" y2="754.10" stroke="#1a1a1a" stroke-width="1.5"/>
<line x1="139.80" y1="750.60" x2="155.20" y2="750.60" stroke="#1a1a1a" stroke-width="1.5"/>
<line x1="155.20" y1="747.10" x2="155.20" y2="754.10" stroke="#1a1a1a" stroke-width="1.5"/>
<line x1="139.80" y1="750.60" x2="139.80" y2="758.40" stroke="#1a1a1a" stroke-width="1.5"/>
<line x1="136.30" y1="758.40" x2="143.30" y2="758.40" stroke="#1a1a1a" stroke-width="1.5"/>
<line x1="195.50" y1="765.60" x2="204.20" y2="765.60" stroke="#1a1a1a" stroke-width="1.5"/>
<line x1="195.50" y1="762.10" x2="195.50" y2="769.10" stroke="#1a1a1a" stroke-width="1.5"/>
<line x1="204.20" y1="765.60" x2="213.20" y2="765.60" stroke="#1a1a1a" stroke-width="1.5"/>
<line x1="213.20" y1="762.10" x2="213.20" y2="769.10" stroke="#1a1a1a" stroke-width="1.5"/>
<line x1="204.20" y1="757.90" x2="204.20" y2="765.60" stroke="#1a1a1a" stroke-width="1.5"/>
<line x1="200.70" y1="757.90" x2="207.70" y2="757.90" stroke="#1a1a1a" stroke-width="1.5"/>
<line x1="204.20" y1="765.60" x2="204.20" y2="773.20" stroke="#1a1a1a" stroke-width="1.5"/>
<line x1="200.70" y1="773.20" x2="207.70" y2="773.20" stroke="#1a1a1a" stroke-width="1.5"/>
<line x1="169.70" y1="834.80" x2="169.70" y2="841.30" stroke="#1a1a1a" stroke-width="1.5"/>
<line x1="166.20" y1="834.80" x2="173.20" y2="834.80" stroke="#1a1a1a" stroke-width="1.5"/>
<line x1="169.70" y1="841.30" x2="169.70" y2="849.00" stroke="#1a1a1a" stroke-width="1.5"/>
<line x1="166.20" y1="849.00" x2="173.20" y2="849.00" stroke="#1a1a1a" stroke-width="1.5"/>
<line x1="161.60" y1="857.60" x2="171.30" y2="857.60" stroke="#1a1a1a" stroke-width="1.5"/>
<line x1="161.60" y1="854.10" x2="161.60" y2="861.10" stroke="#1a1a1a" stroke-width="1.5"/>
<line x1="171.30" y1="857.60" x2="181.80" y2="857.60" stroke="#1a1a1a" stroke-width="1.5"/>
<line x1="181.80" y1="854.10" x2="181.80" y2="861.10" stroke="#1a1a1a" stroke-width="1.5"/>
<line x1="171.30" y1="849.00" x2="171.30" y2="857.60" stroke="#1a1a1a" stroke-width="1.5"/>
<line x1="167.80" y1="849.00" x2="174.80" y2="849.00" stroke="#1a1a1a" stroke-width="1.5"/>
<line x1="171.30" y1="857.60" x2="171.30" y2="866.00" stroke="#1a1a1a" stroke-width="1.5"/>
<line x1="167.80" y1="866.00" x2="174.80" y2="866.00" stroke="#1a1a1a" stroke-width="1.5"/>
<line x1="188.50" y1="873.10" x2="213.90" y2="873.10" stroke="#1a1a1a" stroke-width="1.5"/>
<line x1="188.50" y1="869.60" x2="188.50" y2="876.60" stroke="#1a1a1a" stroke-width="1.5"/>
<line x1="213.90" y1="873.10" x2="240.00" y2="873.10" stroke="#1a1a1a" stroke-width="1.5"/>
<line x1="240.00" y1="869.60" x2="240.00" y2="876.60" stroke="#1a1a1a" stroke-width="1.5"/>
<line x1="213.90" y1="857.70" x2="213.90" y2="873.10" stroke="#1a1a1a" stroke-width="1.5"/>
<line x1="210.40" y1="857.70" x2="217.40" y2="857.70" stroke="#1a1a1a" stroke-width="1.5"/>
<line x1="213.90" y1="873.10" x2="213.90" y2="887.90" stroke="#1a1a1a" stroke-width="1.5"/>
<line x1="210.40" y1="887.90" x2="217.40" y2="887.90" stroke="#1a1a1a" stroke-width="1.5"/>
<line x1="313.60" y1="876.30" x2="333.20" y2="876.30" stroke="#1a1a1a" stroke-width="1.5"/>
<line x1="313.60" y1="872.80" x2="313.60" y2="879.80" stroke="#1a1a1a" stroke-width="1.5"/>
<line x1="333.20" y1="861.30" x2="333.20" y2="876.30" stroke="#1a1a1a" stroke-width="1.5"/>
<line x1="329.70" y1="861.30" x2="336.70" y2="861.30" stroke="#1a1a1a" stroke-width="1.5"/>
<line x1="333.20" y1="876.30" x2="333.20" y2="890.80" stroke="#1a1a1a" stroke-width="1.5"/>
<line x1="329.70" y1="890.80" x2="336.70" y2="890.80" stroke="#1a1a1a" stroke-width="1.5"/>
<line x1="250.20" y1="925.90" x2="274.40" y2="925.90" stroke="#1a1a1a" stroke-width="1.5"/>
<line x1="250.20" y1="922.40" x2="250.20" y2="929.40" stroke="#1a1a1a" stroke-width="1.5"/>
<line x1="274.40" y1="925.90" x2="298.90" y2="925.90" stroke="#1a1a1a" stroke-width="1.5"/>
<line x1="298.90" y1="922.40" x2="298.90" y2="929.40" stroke="#1a1a1a" stroke-width="1.5"/>
<line x1="265.20" y1="925.90" x2="283.60" y2="925.90" stroke="#1a1a1a" stroke-width="1.5"/>
<line x1="265.20" y1="922.40" x2="265.20" y2="929.40" stroke="#1a1a1a" stroke-width="1.5"/>
<line x1="283.60" y1="925.90" x2="301.70" y2="925.90" stroke="#1a1a1a" stroke-width="1.5"/>
<line x1="301.70" y1="922.40" x2="301.70" y2="929.40" stroke="#1a1a1a" stroke-width="1.5"/>
<line x1="333.20" y1="876.30" x2="352.30" y2="876.30" stroke="#1a1a1a" stroke-width="1.5"/>
<circle cx="140.60" cy="739.80" r="6.75" fill="#000"/>
<circle cx="139.80" cy="750.60" r="6.75" fill="#000"/>
<circle cx="204.20" cy="765.60" r="6.75" fill="#000"/>
<circle cx="169.70" cy="841.30" r="6.75" fill="#000"/>
<circle cx="171.30" cy="857.60" r="6.75" fill="#000"/>
<circle cx="213.90" cy="873.10" r="6.75" fill="#000"/>
<circle cx="333.20" cy="876.30" r="6.75" fill="#000"/>
<circle cx="274.40" cy="925.90" r="6.75" fill="#000"/>
<circle cx="283.60" cy="925.90" r="6.75" fill="#000"/>
<text x="231.64" y="715.40" font-size="21.5" textLength="16.30" lengthAdjust="spacingAndGlyphs">R</text>
<text class="tk" x="248.26" y="710.40" font-size="13.8">2</text>
<text x="256.88" y="715.40" font-size="21.5">=</text>
<text x="274.29" y="715.40" font-size="21.5" letter-spacing="-0.505">0.64</text>
<text x="232.20" y="742.00" font-size="21.5" letter-spacing="-0.379">p&lt; 0.01</text>
<line x1="459.60" y1="686.00" x2="459.60" y2="926.00" stroke="#000" stroke-width="1.3"/>
<line x1="459.60" y1="926.00" x2="731.85" y2="926.00" stroke="#000" stroke-width="1.3"/>
<line x1="454.10" y1="926.00" x2="459.60" y2="926.00" stroke="#000" stroke-width="1.3"/>
<text class="tk" x="417.55" y="931.84" font-size="18.0">1.8</text>
<line x1="454.10" y1="866.00" x2="459.60" y2="866.00" stroke="#000" stroke-width="1.3"/>
<text class="tk" x="417.63" y="871.84" font-size="18.0">2.1</text>
<line x1="454.10" y1="806.00" x2="459.60" y2="806.00" stroke="#000" stroke-width="1.3"/>
<text class="tk" x="417.28" y="811.84" font-size="18.0">2.4</text>
<line x1="454.10" y1="746.00" x2="459.60" y2="746.00" stroke="#000" stroke-width="1.3"/>
<text class="tk" x="417.68" y="751.84" font-size="18.0">2.7</text>
<line x1="454.10" y1="686.00" x2="459.60" y2="686.00" stroke="#000" stroke-width="1.3"/>
<text class="tk" x="417.46" y="691.84" font-size="18.0">3.0</text>
<line x1="459.60" y1="926.00" x2="459.60" y2="931.20" stroke="#000" stroke-width="1.3"/>
<text x="459.60" y="955.3" font-size="18.0" text-anchor="middle" class="tk">0</text>
<line x1="514.05" y1="926.00" x2="514.05" y2="931.20" stroke="#000" stroke-width="1.3"/>
<text x="514.05" y="955.3" font-size="18.0" text-anchor="middle" class="tk">5</text>
<line x1="568.50" y1="926.00" x2="568.50" y2="931.20" stroke="#000" stroke-width="1.3"/>
<text x="568.50" y="955.3" font-size="18.0" text-anchor="middle" class="tk">10</text>
<line x1="622.95" y1="926.00" x2="622.95" y2="931.20" stroke="#000" stroke-width="1.3"/>
<text x="622.95" y="955.3" font-size="18.0" text-anchor="middle" class="tk">15</text>
<line x1="677.40" y1="926.00" x2="677.40" y2="931.20" stroke="#000" stroke-width="1.3"/>
<text x="677.40" y="955.3" font-size="18.0" text-anchor="middle" class="tk">20</text>
<line x1="731.85" y1="926.00" x2="731.85" y2="931.20" stroke="#000" stroke-width="1.3"/>
<text x="731.85" y="955.3" font-size="18.0" text-anchor="middle" class="tk">25</text>
<text x="471.01" y="686.60" font-size="22.5">f</text>
<text transform="translate(404.50,880.08) rotate(-90)" font-size="21.2" letter-spacing="0.402">Trophic position</text>
<text x="495.85" y="984.20" font-size="21.2" letter-spacing="0.327">AFDM% in sediment</text>
<polyline points="479.95,749.39 482.84,757.80 485.74,765.22 488.63,771.86 491.52,777.87 494.41,783.36 497.30,788.41 500.19,793.09 503.08,797.44 505.98,801.52 508.87,805.35 511.76,808.96 514.65,812.37 517.54,815.61 520.43,818.69 523.32,821.63 526.22,824.44 529.11,827.13 532.00,829.71 534.89,832.19 537.78,834.58 540.67,836.88 543.56,839.09 546.46,841.24 549.35,843.31 552.24,845.32 555.13,847.26 558.02,849.15 560.91,850.98 563.80,852.76 566.70,854.50 569.59,856.18 572.48,857.83 575.37,859.43 578.26,860.99 581.15,862.51 584.04,864.00 586.94,865.45 589.83,866.88 592.72,868.27 595.61,869.63 598.50,870.96 601.39,872.26 604.28,873.54 607.18,874.79 610.07,876.02 612.96,877.22 615.85,878.41 618.74,879.57 621.63,880.71 624.52,881.83 627.42,882.93 630.31,884.01 633.20,885.07 636.09,886.12 638.98,887.15 641.87,888.16 644.76,889.15 647.66,890.14 650.55,891.10 653.44,892.05 656.33,892.99 659.22,893.91 662.11,894.82 665.01,895.72 667.90,896.61 670.79,897.48 673.68,898.34 676.57,899.19 679.46,900.03 682.35,900.85 685.25,901.67 688.14,902.48 691.03,903.27 693.92,904.06 696.81,904.83 699.70,905.60 702.59,906.36 705.49,907.11 708.38,907.85 711.27,908.58" fill="none" stroke="#000" stroke-width="1.3"/>
<line x1="480.40" y1="717.20" x2="480.40" y2="729.50" stroke="#1a1a1a" stroke-width="1.5"/>
<line x1="476.90" y1="717.20" x2="483.90" y2="717.20" stroke="#1a1a1a" stroke-width="1.5"/>
<line x1="480.40" y1="729.50" x2="480.40" y2="740.90" stroke="#1a1a1a" stroke-width="1.5"/>
<line x1="476.90" y1="740.90" x2="483.90" y2="740.90" stroke="#1a1a1a" stroke-width="1.5"/>
<line x1="510.50" y1="791.80" x2="517.40" y2="791.80" stroke="#1a1a1a" stroke-width="1.5"/>
<line x1="510.50" y1="788.30" x2="510.50" y2="795.30" stroke="#1a1a1a" stroke-width="1.5"/>
<line x1="517.40" y1="791.80" x2="524.50" y2="791.80" stroke="#1a1a1a" stroke-width="1.5"/>
<line x1="524.50" y1="788.30" x2="524.50" y2="795.30" stroke="#1a1a1a" stroke-width="1.5"/>
<line x1="517.40" y1="780.60" x2="517.40" y2="791.80" stroke="#1a1a1a" stroke-width="1.5"/>
<line x1="513.90" y1="780.60" x2="520.90" y2="780.60" stroke="#1a1a1a" stroke-width="1.5"/>
<line x1="517.40" y1="791.80" x2="517.40" y2="802.60" stroke="#1a1a1a" stroke-width="1.5"/>
<line x1="513.90" y1="802.60" x2="520.90" y2="802.60" stroke="#1a1a1a" stroke-width="1.5"/>
<line x1="513.80" y1="820.40" x2="555.10" y2="820.40" stroke="#1a1a1a" stroke-width="1.5"/>
<line x1="513.80" y1="816.90" x2="513.80" y2="823.90" stroke="#1a1a1a" stroke-width="1.5"/>
<line x1="555.10" y1="820.40" x2="595.90" y2="820.40" stroke="#1a1a1a" stroke-width="1.5"/>
<line x1="595.90" y1="816.90" x2="595.90" y2="823.90" stroke="#1a1a1a" stroke-width="1.5"/>
<line x1="555.10" y1="781.70" x2="555.10" y2="820.40" stroke="#1a1a1a" stroke-width="1.5"/>
<line x1="551.60" y1="781.70" x2="558.60" y2="781.70" stroke="#1a1a1a" stroke-width="1.5"/>
<line x1="555.10" y1="820.40" x2="555.10" y2="859.10" stroke="#1a1a1a" stroke-width="1.5"/>
<line x1="551.60" y1="859.10" x2="558.60" y2="859.10" stroke="#1a1a1a" stroke-width="1.5"/>
<line x1="533.10" y1="846.20" x2="533.10" y2="859.60" stroke="#1a1a1a" stroke-width="1.5"/>
<line x1="529.60" y1="846.20" x2="536.60" y2="846.20" stroke="#1a1a1a" stroke-width="1.5"/>
<line x1="533.10" y1="859.60" x2="533.10" y2="873.10" stroke="#1a1a1a" stroke-width="1.5"/>
<line x1="529.60" y1="873.10" x2="536.60" y2="873.10" stroke="#1a1a1a" stroke-width="1.5"/>
<line x1="521.70" y1="891.00" x2="540.00" y2="891.00" stroke="#1a1a1a" stroke-width="1.5"/>
<line x1="521.70" y1="887.50" x2="521.70" y2="894.50" stroke="#1a1a1a" stroke-width="1.5"/>
<line x1="540.00" y1="891.00" x2="559.40" y2="891.00" stroke="#1a1a1a" stroke-width="1.5"/>
<line x1="559.40" y1="887.50" x2="559.40" y2="894.50" stroke="#1a1a1a" stroke-width="1.5"/>
<line x1="540.00" y1="878.10" x2="540.00" y2="891.00" stroke="#1a1a1a" stroke-width="1.5"/>
<line x1="536.50" y1="878.10" x2="543.50" y2="878.10" stroke="#1a1a1a" stroke-width="1.5"/>
<line x1="541.70" y1="885.00" x2="571.80" y2="885.00" stroke="#1a1a1a" stroke-width="1.5"/>
<line x1="541.70" y1="881.50" x2="541.70" y2="888.50" stroke="#1a1a1a" stroke-width="1.5"/>
<line x1="571.80" y1="885.00" x2="604.10" y2="885.00" stroke="#1a1a1a" stroke-width="1.5"/>
<line x1="604.10" y1="881.50" x2="604.10" y2="888.50" stroke="#1a1a1a" stroke-width="1.5"/>
<line x1="571.80" y1="873.10" x2="571.80" y2="885.00" stroke="#1a1a1a" stroke-width="1.5"/>
<line x1="568.30" y1="873.10" x2="575.30" y2="873.10" stroke="#1a1a1a" stroke-width="1.5"/>
<line x1="571.80" y1="885.00" x2="571.80" y2="896.10" stroke="#1a1a1a" stroke-width="1.5"/>
<line x1="568.30" y1="896.10" x2="575.30" y2="896.10" stroke="#1a1a1a" stroke-width="1.5"/>
<line x1="632.70" y1="861.60" x2="639.10" y2="861.60" stroke="#1a1a1a" stroke-width="1.5"/>
<line x1="632.70" y1="858.10" x2="632.70" y2="865.10" stroke="#1a1a1a" stroke-width="1.5"/>
<line x1="639.10" y1="861.60" x2="645.60" y2="861.60" stroke="#1a1a1a" stroke-width="1.5"/>
<line x1="645.60" y1="858.10" x2="645.60" y2="865.10" stroke="#1a1a1a" stroke-width="1.5"/>
<line x1="639.10" y1="846.10" x2="639.10" y2="861.60" stroke="#1a1a1a" stroke-width="1.5"/>
<line x1="635.60" y1="846.10" x2="642.60" y2="846.10" stroke="#1a1a1a" stroke-width="1.5"/>
<line x1="639.10" y1="861.60" x2="639.10" y2="876.20" stroke="#1a1a1a" stroke-width="1.5"/>
<line x1="635.60" y1="876.20" x2="642.60" y2="876.20" stroke="#1a1a1a" stroke-width="1.5"/>
<line x1="624.50" y1="894.90" x2="668.20" y2="894.90" stroke="#1a1a1a" stroke-width="1.5"/>
<line x1="624.50" y1="891.40" x2="624.50" y2="898.40" stroke="#1a1a1a" stroke-width="1.5"/>
<line x1="668.20" y1="894.90" x2="704.30" y2="894.90" stroke="#1a1a1a" stroke-width="1.5"/>
<line x1="704.30" y1="891.40" x2="704.30" y2="898.40" stroke="#1a1a1a" stroke-width="1.5"/>
<line x1="668.20" y1="887.60" x2="668.20" y2="894.90" stroke="#1a1a1a" stroke-width="1.5"/>
<line x1="664.70" y1="887.60" x2="671.70" y2="887.60" stroke="#1a1a1a" stroke-width="1.5"/>
<line x1="668.20" y1="894.90" x2="668.20" y2="902.00" stroke="#1a1a1a" stroke-width="1.5"/>
<line x1="664.70" y1="902.00" x2="671.70" y2="902.00" stroke="#1a1a1a" stroke-width="1.5"/>
<line x1="704.30" y1="895.20" x2="711.60" y2="895.20" stroke="#1a1a1a" stroke-width="1.5"/>
<line x1="704.30" y1="891.70" x2="704.30" y2="898.70" stroke="#1a1a1a" stroke-width="1.5"/>
<line x1="711.60" y1="895.20" x2="719.80" y2="895.20" stroke="#1a1a1a" stroke-width="1.5"/>
<line x1="719.80" y1="891.70" x2="719.80" y2="898.70" stroke="#1a1a1a" stroke-width="1.5"/>
<line x1="711.60" y1="876.20" x2="711.60" y2="895.20" stroke="#1a1a1a" stroke-width="1.5"/>
<line x1="708.10" y1="876.20" x2="715.10" y2="876.20" stroke="#1a1a1a" stroke-width="1.5"/>
<line x1="711.60" y1="895.20" x2="711.60" y2="914.30" stroke="#1a1a1a" stroke-width="1.5"/>
<line x1="708.10" y1="914.30" x2="715.10" y2="914.30" stroke="#1a1a1a" stroke-width="1.5"/>
<circle cx="480.40" cy="729.50" r="6.75" fill="#000"/>
<circle cx="517.40" cy="791.80" r="6.75" fill="#000"/>
<circle cx="555.10" cy="820.40" r="6.75" fill="#000"/>
<circle cx="533.10" cy="859.60" r="6.75" fill="#000"/>
<circle cx="540.00" cy="891.00" r="6.75" fill="#000"/>
<circle cx="571.80" cy="885.00" r="6.75" fill="#000"/>
<circle cx="639.10" cy="861.60" r="6.75" fill="#000"/>
<circle cx="668.20" cy="894.90" r="6.75" fill="#000"/>
<circle cx="711.60" cy="895.20" r="6.75" fill="#000"/>
<text x="626.34" y="715.40" font-size="21.5" textLength="16.30" lengthAdjust="spacingAndGlyphs">R</text>
<text class="tk" x="642.96" y="710.40" font-size="13.8">2</text>
<text x="651.57" y="715.40" font-size="21.5">=</text>
<text x="668.99" y="715.40" font-size="21.5" letter-spacing="-0.111">0.72</text>
<text x="626.90" y="742.00" font-size="21.5" letter-spacing="-0.496">p&lt; 0.01</text>
</svg>
</body></html>
